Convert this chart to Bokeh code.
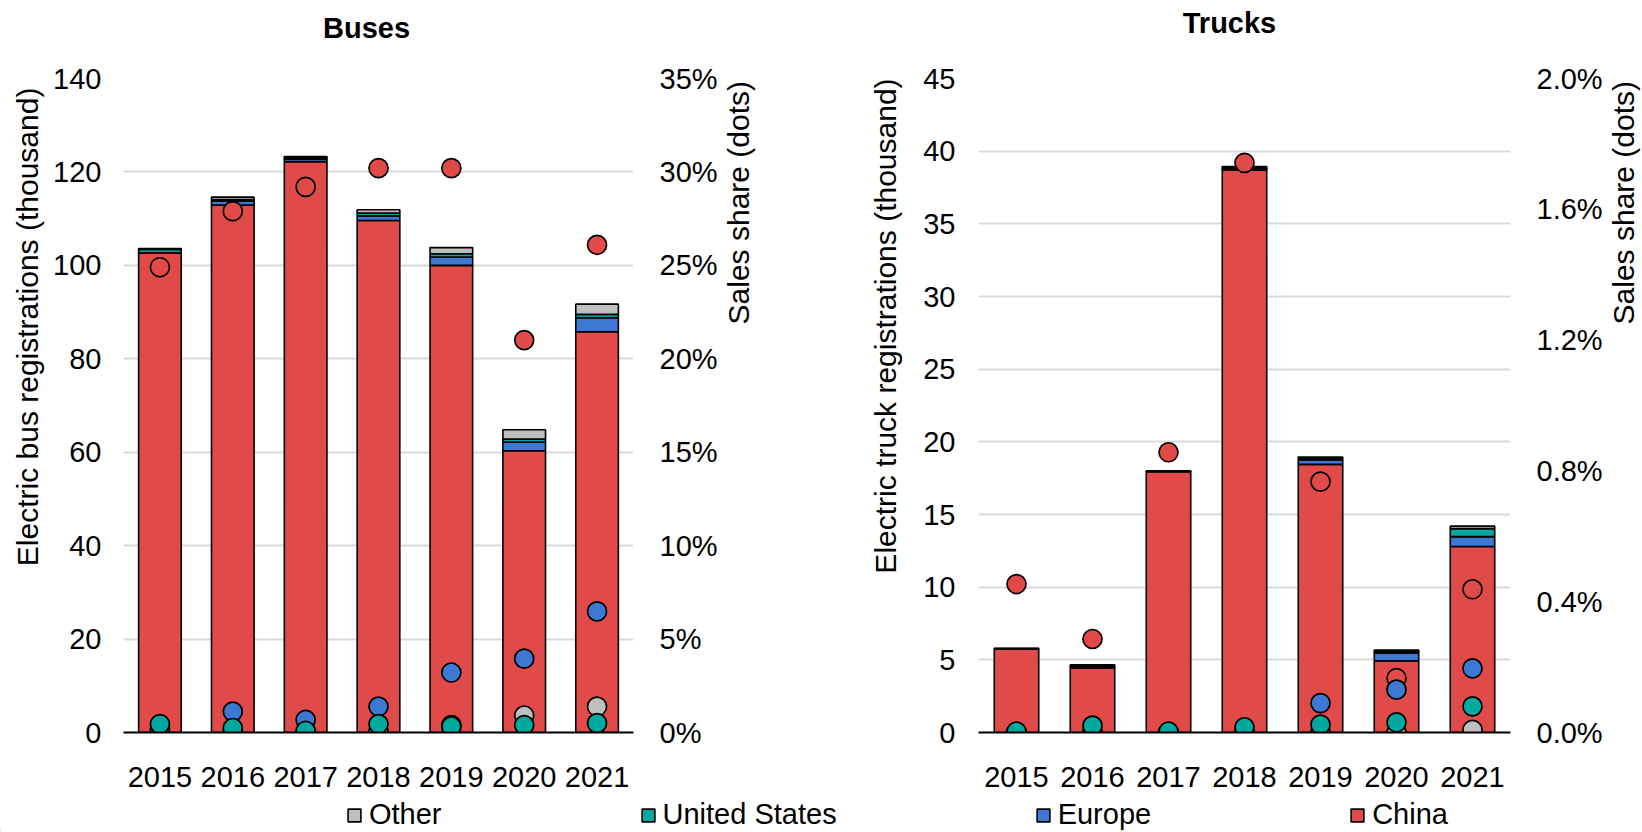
import math
from bokeh.plotting import figure
from bokeh.models import (Range1d, LinearAxis, FixedTicker, NumeralTickFormatter,
                          Legend, LegendItem, ColumnDataSource, FactorRange)
from bokeh.layouts import column, row
from bokeh.embed import file_html
from bokeh.resources import INLINE
from bokeh.core.properties import value

# ---------------- data ----------------
years = ["2015", "2016", "2017", "2018", "2019", "2020", "2021"]

# Buses: registrations (thousand)
bus_china = [102.6, 112.9, 122.2, 109.6, 100.0, 60.3, 85.8]
bus_europe = [0.1, 0.9, 0.5, 1.0, 1.8, 1.9, 3.0]
bus_us = [0.7, 0.3, 0.3, 0.6, 0.7, 0.6, 0.7]
bus_other = [0.2, 0.5, 0.3, 0.7, 1.3, 2.0, 2.2]
# Buses: sales share (dots)
bus_share_china = [0.249, 0.279, 0.292, 0.302, 0.302, 0.210, 0.261]
bus_share_europe = [0.002, 0.0112, 0.0068, 0.0139, 0.0321, 0.0395, 0.0648]
bus_share_us = [0.0045, 0.0024, 0.0009, 0.0045, 0.0032, 0.0040, 0.0050]
bus_share_other = [0.0, 0.0005, 0.0002, 0.0005, 0.0040, 0.0091, 0.0139]

# Trucks: registrations (thousand)
truck_china = [5.75, 4.45, 17.95, 38.7, 18.45, 4.93, 12.8]
truck_europe = [0.01, 0.08, 0.02, 0.10, 0.30, 0.55, 0.68]
truck_us = [0.01, 0.05, 0.01, 0.05, 0.10, 0.12, 0.55]
truck_other = [0.02, 0.08, 0.02, 0.10, 0.10, 0.07, 0.17]
# Trucks: sales share (dots)
truck_share_china = [0.00454, 0.00286, 0.00857, 0.01742, 0.00767, 0.00166, 0.00438]
truck_share_europe = [0.0, 0.0, 0.0, 0.0, 0.0009, 0.00131, 0.00196]
truck_share_us = [0.00003, 0.00021, 0.00003, 0.00016, 0.00024, 0.00031, 0.0008]
truck_share_other = [0.0, 0.0, 0.0, 0.0, 0.0, 0.0, 0.00008]

panel_titles = ["Buses", "Trucks"]
bus_axis_title = "Electric bus registrations (thousand)"
truck_axis_title = "Electric truck registrations (thousand)"
share_axis_title = "Sales share (dots)"
legend_labels = ["Other", "United States", "Europe", "China"]

# ---------------- style ----------------
FONT = "Liberation Sans"
C_CHINA = "#E04B4A"
C_EUROPE = "#3D78D3"
C_US = "#00A99D"
C_OTHER = "#BFBFBF"
COLORS = {"China": C_CHINA, "Europe": C_EUROPE, "United States": C_US, "Other": C_OTHER}

TITLE_H = 45
PLOT_H = 753
LEGEND_H = 33


def blank(width, height, **kw):
    f = figure(width=width, height=height, x_range=Range1d(0, width), y_range=Range1d(0, height),
               x_axis_type=None, y_axis_type=None, toolbar_location=None, tools="",
               min_border=0, output_backend="svg", **kw)
    f.outline_line_color = None
    f.grid.visible = False
    return f


def vtitle(width, text, x, y):
    f = blank(width, PLOT_H)
    f.text(x=[x], y=[y], text=[text], angle=math.pi / 2, text_font=value(FONT),
           text_font_size="30px", text_align="center", text_baseline="middle",
           text_color="black")
    return f


def make_panel(y_max, y_step, s_max, s_step, s_fmt,
               china, europe, us, other, sc, se, su, so,
               width, b_left, b_right, l_tick_stand, r_tick_stand):
    src = ColumnDataSource(dict(year=years, china=china, europe=europe, us=us, other=other,
                                sc=sc, se=se, su=su, so=so))
    p = figure(x_range=FactorRange(*years), y_range=Range1d(0, y_max),
               width=width, height=PLOT_H,
               min_border_left=b_left, min_border_right=b_right,
               min_border_top=33, min_border_bottom=66,
               toolbar_location=None, tools="", output_backend="svg")
    p.extra_y_ranges = {"share": Range1d(0, s_max)}

    p.vbar_stack(["china", "europe", "us", "other"], x="year", width=0.585, source=src,
                 fill_color=[C_CHINA, C_EUROPE, C_US, C_OTHER],
                 line_color="black", line_width=1.6)

    for col, c in (("so", C_OTHER), ("sc", C_CHINA), ("se", C_EUROPE), ("su", C_US)):
        p.scatter(x="year", y=col, y_range_name="share", source=src, size=19,
                  fill_color=c, line_color="black", line_width=1.7)

    n = int(round(y_max / y_step))
    p.yaxis.ticker = FixedTicker(ticks=[round(i * y_step, 6) for i in range(n + 1)])
    ns = int(round(s_max / s_step))
    raxis = LinearAxis(y_range_name="share",
                       ticker=FixedTicker(ticks=[round(i * s_step, 6) for i in range(ns + 1)]),
                       formatter=NumeralTickFormatter(format=s_fmt))
    p.add_layout(raxis, "right")

    for ax in p.yaxis:
        ax.axis_line_color = None
        ax.major_tick_line_color = None
        ax.minor_tick_line_color = None
        ax.major_tick_out = 0
        ax.major_tick_in = 0
        ax.major_label_text_font = FONT
        ax.major_label_text_font_size = "29px"
        ax.major_label_text_color = "black"
    p.yaxis[0].major_label_standoff = l_tick_stand
    raxis.major_label_standoff = r_tick_stand

    xa = p.xaxis[0]
    xa.axis_line_color = "black"
    xa.axis_line_width = 2
    xa.major_tick_line_color = None
    xa.minor_tick_line_color = None
    xa.major_tick_out = 0
    xa.major_tick_in = 0
    xa.major_label_standoff = 34
    xa.major_label_text_font = FONT
    xa.major_label_text_font_size = "29px"
    xa.major_label_text_color = "black"

    p.xgrid.grid_line_color = None
    p.ygrid.grid_line_color = "#D9D9D9"
    p.ygrid.grid_line_width = 2
    p.outline_line_color = None
    return p


p_bus = make_panel(140, 20, 0.35, 0.05, "0%",
                   bus_china, bus_europe, bus_us, bus_other,
                   bus_share_china, bus_share_europe, bus_share_us, bus_share_other,
                   width=672, b_left=75, b_right=86, l_tick_stand=22, r_tick_stand=26)

p_truck = make_panel(45, 5, 0.02, 0.004, "0.0%",
                     truck_china, truck_europe, truck_us, truck_other,
                     truck_share_china, truck_share_europe, truck_share_us, truck_share_other,
                     width=699, b_left=72, b_right=94, l_tick_stand=23, r_tick_stand=26)

s1 = vtitle(48, bus_axis_title, 27, 467)
s2 = vtitle(44, share_axis_title, 18, 610)
s3 = vtitle(142, truck_axis_title, 121, 468)
s4 = vtitle(36, share_axis_title, 18, 610)

# ---------------- title strip ----------------
tstrip = blank(1641, TITLE_H)
tstrip.text(x=[366, 1229], y=[18, 23], text=panel_titles, text_font=value(FONT),
            text_font_size="29px", text_font_style="bold", text_align="center",
            text_baseline="middle", text_color="black")

# ---------------- legend strip ----------------
leg = blank(1641, LEGEND_H)
items = []
for lab in legend_labels:
    # off-screen proxy glyph so the legend can draw a swatch
    r = leg.vbar(x=[-500], bottom=[-300], top=[-200], width=10, fill_color=COLORS[lab],
                 line_color="black", line_width=1.6)
    items.append(LegendItem(label=value(lab), renderers=[r]))
legend = Legend(items=items, orientation="horizontal", location=(346, 0),
                padding=0, margin=0, spacing=198, glyph_width=16, glyph_height=16,
                label_standoff=7, label_text_font=FONT, label_text_font_size="29px",
                label_text_color="black", border_line_alpha=0, background_fill_alpha=0)
leg.add_layout(legend)

layout = column(tstrip, row(s1, p_bus, s2, s3, p_truck, s4), leg)
open("out.html", "w").write(file_html(layout, INLINE))
